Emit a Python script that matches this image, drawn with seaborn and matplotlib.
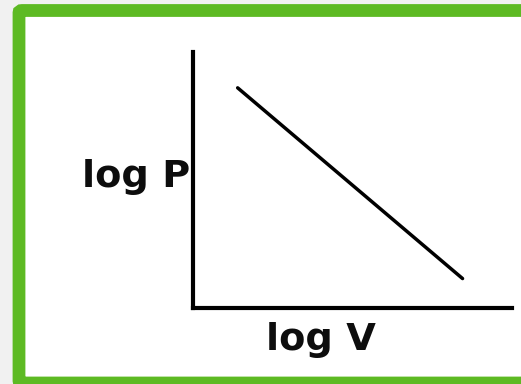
import matplotlib
matplotlib.use("Agg")
import matplotlib.pyplot as plt
from matplotlib.patches import FancyBboxPatch
import seaborn as sns
import pandas as pd

# straight-line relation between log P and log V (Boyle's law on log axes)
log_v = [1.4, 8.45]
log_p = [8.6, 1.15]

sns.set_style("white")
plt.rcParams["font.family"] = ["DejaVu Sans"]

W, H = 521, 384
fig = plt.figure(figsize=(W / 100, H / 100), dpi=100)
fig.patch.set_facecolor("#f1f1f1")

# green framed card behind the chart
card = FancyBboxPatch((19 / W, 1 - 383 / H), (W + 20 - 19) / W, (383 - 10.5) / H,
                      boxstyle="round,pad=0,rounding_size=0.006",
                      transform=fig.transFigure, facecolor="white",
                      edgecolor="#5dba23", linewidth=9.2, zorder=-5)
fig.patches.append(card)

# axes box: left 192px, right 512px, top 52px, bottom 307px
ax = fig.add_axes([193 / W, 1 - 308 / H, (512 - 193) / W, (308 - 52) / H])
ax.set_zorder(2)
ax.set_facecolor("none")

df = pd.DataFrame({"log V": log_v, "log P": log_p})
sns.lineplot(data=df, x="log V", y="log P", ax=ax, color="black",
             linewidth=2.5, solid_capstyle="round")

ax.set_xlim(0, 10)
ax.set_ylim(0, 10)
ax.set_xticks([])
ax.set_yticks([])
for side in ("top", "right"):
    ax.spines[side].set_visible(False)
for side in ("left", "bottom"):
    ax.spines[side].set_color("black")
    ax.spines[side].set_linewidth(3.0)

ax.set_xlabel("log V", fontsize=27.5, fontweight="bold", color="#0d0d0d",
              ha="center", va="baseline")
ax.set_ylabel("log P", fontsize=27.5, fontweight="bold", color="#0d0d0d",
              rotation=0, ha="right", va="baseline")
ax.xaxis.set_label_coords(0.401, -0.165)
ax.yaxis.set_label_coords(-0.008, 0.472)

fig.savefig("out.png", dpi=100, facecolor=fig.get_facecolor())
